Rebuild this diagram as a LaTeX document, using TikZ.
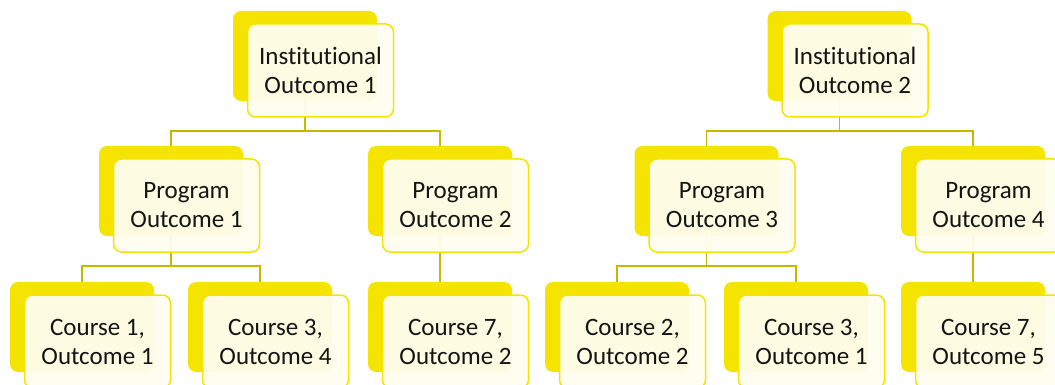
\documentclass[tikz,border=0pt]{standalone}
\usepackage{fontspec}
\setmainfont{Carlito}[Ligatures={NoCommon,NoContextual,NoRequired}, Contextuals=NoAlternate]

\definecolor{boxyellow}{RGB}{245,228,0}
\definecolor{boxpale}{RGB}{254,253,238}
\definecolor{linkolive}{RGB}{200,182,0}

\tikzset{
  backbox/.style={fill=boxyellow, rounded corners=8pt, minimum width=144pt, minimum height=90pt, inner sep=0pt},
  frontbox/.style={draw=boxyellow, line width=1.5pt, fill=boxpale, fill opacity=0.95, text opacity=1,
    rounded corners=8pt, minimum width=146pt, minimum height=93pt, inner sep=0pt, align=center,
    text=black!92, font=\fontsize{25}{29}\selectfont},
  link/.style={draw=linkolive, line width=1.5pt}
}

\begin{document}
\begin{tikzpicture}[x=1pt, y=-1pt]
                \useasboundingbox (0,0) rectangle (1055,385);
                % yellow back plates
                \node[backbox] (io1b) at (305,56) {};
                \node[backbox] (io2b) at (839.5,56) {};
                \node[backbox] (po1b) at (171,191) {};
                \node[backbox] (po2b) at (440,191) {};
                \node[backbox] (po3b) at (706.5,191) {};
                \node[backbox] (po4b) at (973,191) {};
                \node[backbox] (c1o1b) at (82,327) {};
                \node[backbox] (c3o4b) at (260,327) {};
                \node[backbox] (c7o2b) at (440,327) {};
                \node[backbox] (c2o2b) at (617,327) {};
                \node[backbox] (c3o1b) at (796,327) {};
                \node[backbox] (c7o5b) at (973,327) {};
                % tree links
                \draw[link] (io1b.south) -- ++(0,30) -| (po1b.north);
                \draw[link] (io1b.south) -- ++(0,30) -| (po2b.north);
                \draw[link] (io2b.south) -- ++(0,30) -| (po3b.north);
                \draw[link] (io2b.south) -- ++(0,30) -| (po4b.north);
                \draw[link] (po1b.south) -- ++(0,30) -| (c1o1b.north);
                \draw[link] (po1b.south) -- ++(0,30) -| (c3o4b.north);
                \draw[link] (po2b.south) -- (c7o2b.north);
                \draw[link] (po3b.south) -- ++(0,30) -| (c2o2b.north);
                \draw[link] (po3b.south) -- ++(0,30) -| (c3o1b.north);
                \draw[link] (po4b.south) -- (c7o5b.north);
                % pale front cards
                \node[frontbox] (io1) at (320.5,70.5) {Institutional\\Outcome 1};
                \node[frontbox] (io2) at (855,70.5) {Institutional\\Outcome 2};
                \node[frontbox] (po1) at (186.5,205.5) {Program\\Outcome 1};
                \node[frontbox] (po2) at (455.5,205.5) {Program\\Outcome 2};
                \node[frontbox] (po3) at (722,205.5) {Program\\Outcome 3};
                \node[frontbox] (po4) at (988.5,205.5) {Program\\Outcome 4};
                \node[frontbox] (c1o1) at (97.5,341.5) {Course 1,\\Outcome 1};
                \node[frontbox] (c3o4) at (275.5,341.5) {Course 3,\\Outcome 4};
                \node[frontbox] (c7o2) at (455.5,341.5) {Course 7,\\Outcome 2};
                \node[frontbox] (c2o2) at (632.5,341.5) {Course 2,\\Outcome 2};
                \node[frontbox] (c3o1) at (811.5,341.5) {Course 3,\\Outcome 1};
                \node[frontbox] (c7o5) at (988.5,341.5) {Course 7,\\Outcome 5};
            \end{tikzpicture}
\end{document}
